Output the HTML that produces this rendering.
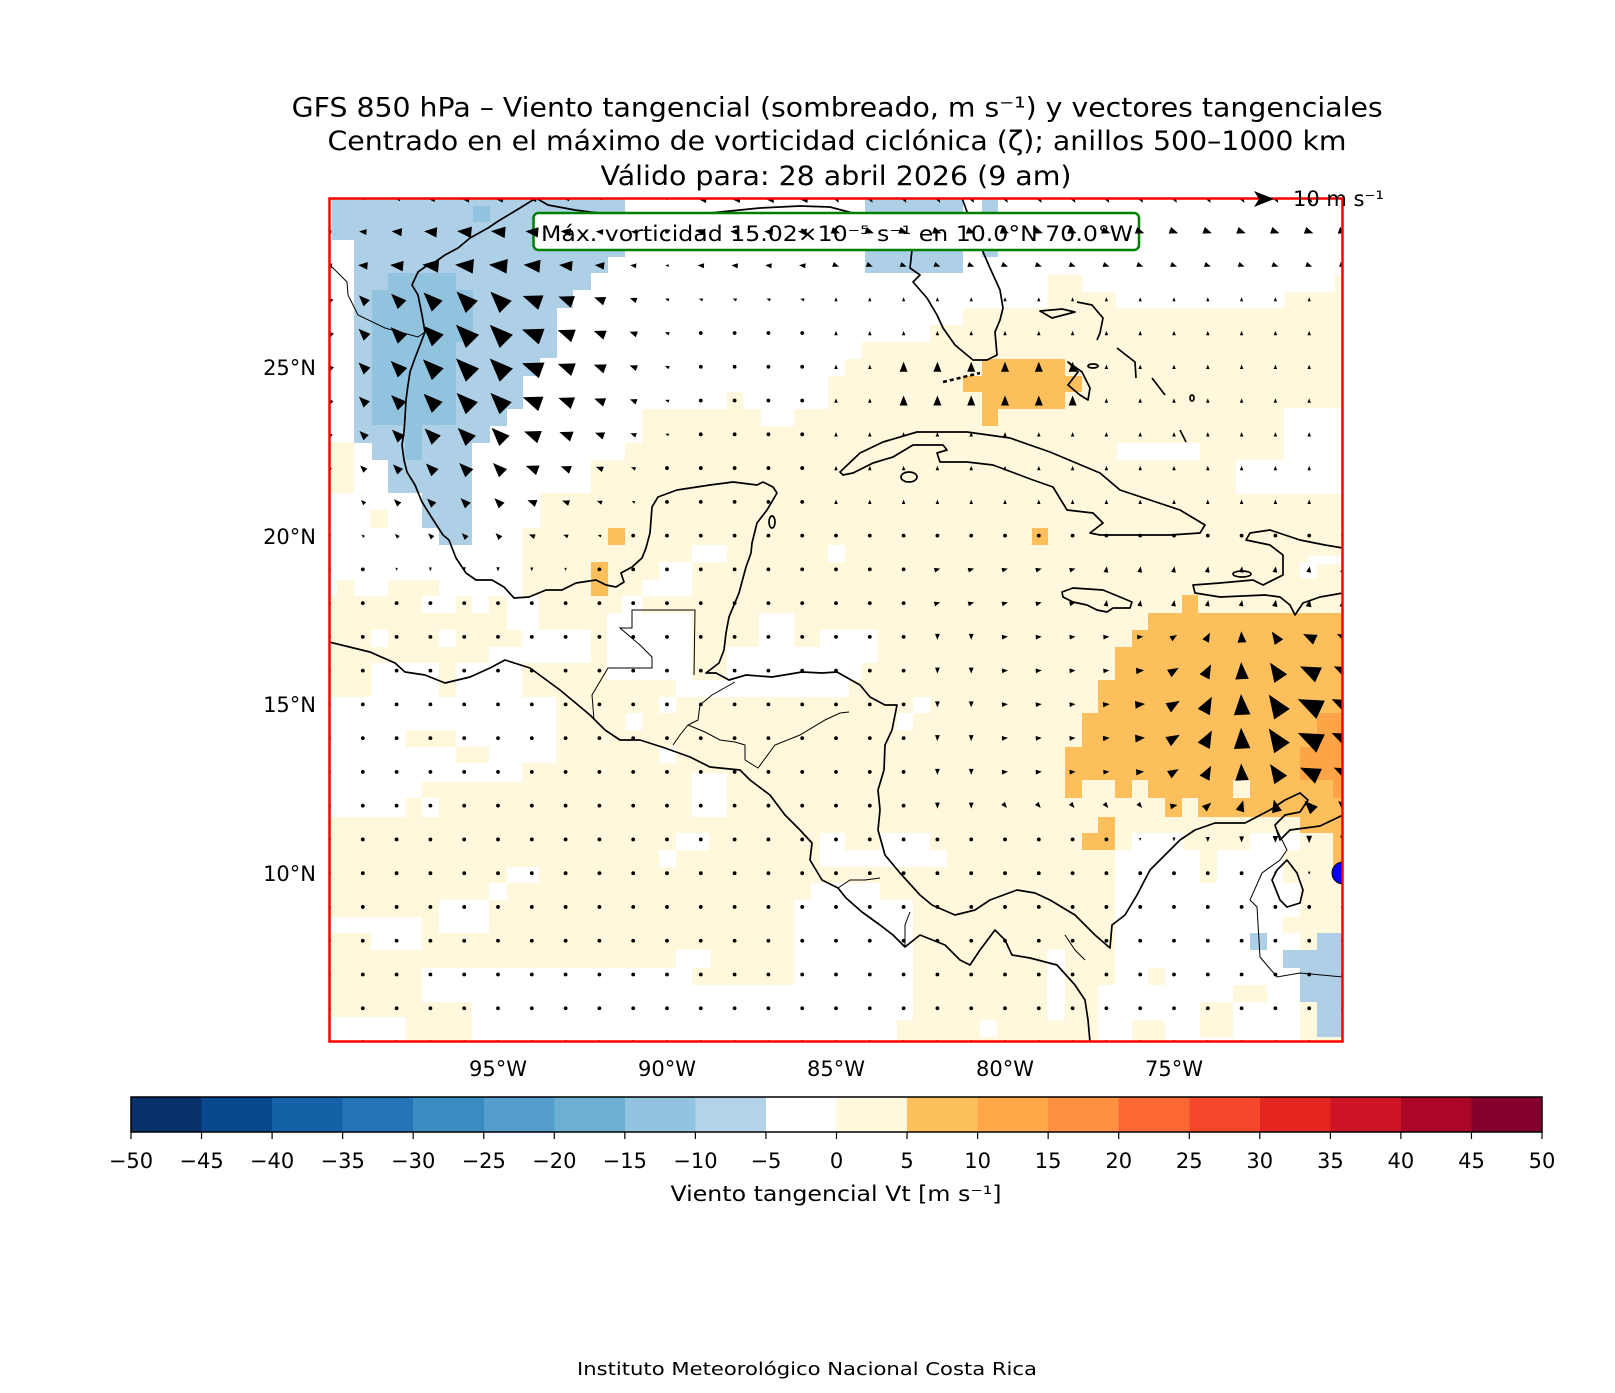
<!DOCTYPE html>
<html><head><meta charset="utf-8">
<style>
html,body{margin:0;padding:0;background:#fff;}
svg{display:block;font-family:"DejaVu Sans","Liberation Sans",sans-serif;}
</style></head>
<body>
<svg id="s" width="1615" height="1393" viewBox="0 0 1615 1393" xmlns="http://www.w3.org/2000/svg">
<defs><clipPath id="mc"><rect x="329" y="198" width="1014" height="844"/></clipPath></defs>
<rect width="1615" height="1393" fill="#fff"/>
<text x="291.7" y="116.7" font-size="27" textLength="1091" lengthAdjust="spacingAndGlyphs">GFS 850 hPa – Viento tangencial (sombreado, m s⁻¹) y vectores tangenciales</text>
<text x="327.5" y="150" font-size="27" textLength="1019" lengthAdjust="spacingAndGlyphs">Centrado en el máximo de vorticidad ciclónica (ζ); anillos 500–1000 km</text>
<text x="600.5" y="185" font-size="27" textLength="471" lengthAdjust="spacingAndGlyphs">Válido para: 28 abril 2026 (9 am)</text>

<g clip-path="url(#mc)" shape-rendering="crispEdges">
<rect x="329" y="198" width="1014" height="844" fill="#fff8dc"/>
<polygon fill="#fff" points="329,198 1343,198 1343,275 1335,275 1335,292 1285,292 1285,308 1116,308 1116,292 1082,292 1082,275 1048,275 1048,308 963,308 963,325 930,325 930,342 862,342 862,359 845,359 845,376 828,376 828,409 794,409 794,426 761,426 761,409 743,409 743,392 727,392 727,409 642,409 642,443 625,443 625,460 591,460 591,493 540,493 540,528 522,528 522,596 329,596"/>
<g fill="#fff8dc">
<rect x="329" y="442" width="25" height="51"/><rect x="337" y="580" width="17" height="16"/><rect x="388" y="580" width="51" height="16"/><rect x="370" y="510" width="18" height="18"/>
</g>
<g fill="#fff">
<rect x="1284" y="408" width="59" height="86"/><rect x="1236" y="460" width="48" height="34"/><rect x="1117" y="443" width="83" height="17"/><rect x="1300" y="562" width="17" height="16"/><rect x="1308" y="556" width="35" height="8"/>
<rect x="422" y="596" width="34" height="17"/><rect x="472" y="596" width="17" height="17"/><rect x="507" y="596" width="32" height="34"/>
<rect x="371" y="630" width="17" height="17"/><rect x="439" y="630" width="17" height="17"/><rect x="522" y="630" width="69" height="17"/>
<rect x="489" y="647" width="102" height="16"/><rect x="371" y="663" width="68" height="34"/><rect x="456" y="663" width="66" height="34"/>
<rect x="329" y="697" width="227" height="33"/><rect x="329" y="730" width="77" height="17"/><rect x="456" y="730" width="100" height="17"/>
<rect x="329" y="747" width="127" height="16"/><rect x="489" y="747" width="67" height="16"/><rect x="329" y="763" width="193" height="19"/>
<rect x="329" y="782" width="93" height="16"/><rect x="329" y="798" width="77" height="19"/><rect x="422" y="798" width="17" height="19"/>
<rect x="607" y="613" width="85" height="67"/><rect x="692" y="545" width="35" height="17"/><rect x="659" y="562" width="33" height="34"/><rect x="642" y="580" width="34" height="16"/><rect x="622" y="596" width="20" height="17"/>
<rect x="727" y="647" width="122" height="50"/><rect x="759" y="613" width="35" height="34"/><rect x="676" y="680" width="51" height="17"/><rect x="659" y="697" width="17" height="16"/><rect x="626" y="713" width="16" height="17"/>
<rect x="659" y="747" width="17" height="16"/><rect x="692" y="773" width="35" height="44"/><rect x="676" y="833" width="33" height="17"/><rect x="659" y="850" width="17" height="17"/>
<rect x="794" y="900" width="55" height="142"/><rect x="811" y="883" width="38" height="17"/>
<rect x="422" y="968" width="117" height="34"/><rect x="472" y="1002" width="67" height="40"/><rect x="539" y="968" width="153" height="74"/><rect x="692" y="985" width="157" height="57"/><rect x="676" y="950" width="35" height="18"/>
<rect x="329" y="1017" width="77" height="25"/><rect x="329" y="917" width="93" height="16"/><rect x="371" y="933" width="51" height="17"/><rect x="439" y="900" width="50" height="33"/><rect x="489" y="883" width="18" height="17"/><rect x="507" y="867" width="32" height="16"/>
<rect x="820" y="630" width="58" height="33"/><rect x="820" y="663" width="42" height="17"/><rect x="913" y="697" width="17" height="16"/><rect x="897" y="713" width="16" height="17"/><rect x="828" y="545" width="17" height="17"/>
<rect x="880" y="833" width="50" height="17"/><rect x="845" y="850" width="102" height="17"/><rect x="820" y="833" width="25" height="34"/><rect x="820" y="883" width="60" height="17"/><rect x="820" y="900" width="93" height="120"/><rect x="820" y="1020" width="77" height="22"/>
<rect x="1115" y="850" width="135" height="192"/><rect x="1132" y="833" width="51" height="17"/><rect x="1250" y="833" width="50" height="209"/>
<rect x="1047" y="950" width="18" height="70"/><rect x="1098" y="985" width="17" height="57"/><rect x="980" y="1020" width="17" height="17"/>
</g>
<g fill="#fff8dc">
<rect x="1200" y="1002" width="33" height="35"/><rect x="1132" y="1020" width="33" height="22"/><rect x="1148" y="968" width="17" height="17"/><rect x="1233" y="985" width="34" height="17"/><rect x="1283" y="917" width="17" height="16"/><rect x="1300" y="900" width="17" height="17"/><rect x="1283" y="850" width="50" height="33"/><rect x="1200" y="850" width="17" height="33"/>
</g>
<g fill="#aed0e6">
<polygon points="332,198 625,198 625,257 608,257 608,273 591,273 591,290 573,290 573,308 557,308 557,358 540,358 540,376 523,376 523,409 507,409 507,426 490,426 490,443 472,443 472,545 439,545 439,528 422,528 422,493 388,493 388,460 372,460 372,443 354,443 354,240 332,240"/>
<rect x="865" y="198" width="98" height="75"/><rect x="982" y="198" width="16" height="59"/>
<rect x="1250" y="933" width="17" height="17"/><rect x="1317" y="933" width="26" height="17"/><rect x="1283" y="950" width="60" height="18"/><rect x="1300" y="968" width="43" height="34"/><rect x="1317" y="1002" width="26" height="35"/>
</g>
<g fill="#91c3df">
<polygon points="388,273 456,273 456,290 473,290 473,342 456,342 456,425 422,425 422,460 405,460 405,425 372,425 372,290 388,290"/>
<rect x="473" y="206" width="17" height="16"/>
</g>
<g fill="#fdbf5b">
<rect x="1182" y="595" width="16" height="18"/><rect x="1148" y="613" width="195" height="17"/><rect x="1132" y="630" width="211" height="17"/><rect x="1115" y="647" width="228" height="33"/><rect x="1098" y="680" width="245" height="33"/><rect x="1082" y="713" width="261" height="34"/><rect x="1065" y="747" width="278" height="33"/>
<rect x="1065" y="780" width="17" height="18"/><rect x="1115" y="780" width="17" height="18"/><rect x="1148" y="780" width="85" height="18"/><rect x="1250" y="780" width="93" height="18"/>
<rect x="1165" y="798" width="17" height="19"/><rect x="1198" y="798" width="102" height="19"/><rect x="1300" y="798" width="43" height="35"/><rect x="1333" y="833" width="10" height="40"/>
<rect x="1098" y="817" width="17" height="33"/><rect x="1082" y="833" width="16" height="17"/>
<rect x="982" y="359" width="83" height="50"/><rect x="963" y="376" width="19" height="16"/><rect x="982" y="409" width="16" height="17"/><rect x="1065" y="376" width="17" height="16"/>
<rect x="608" y="528" width="17" height="17"/><rect x="591" y="562" width="17" height="34"/><rect x="1032" y="528" width="16" height="17"/>
</g>
<g fill="#fda446">
<rect x="1317" y="713" width="26" height="34"/><rect x="1300" y="747" width="43" height="33"/><rect x="1333" y="780" width="10" height="18"/>
</g>
</g>

<g clip-path="url(#mc)" fill="none" stroke="#000" stroke-width="1.7" stroke-linejoin="round">
<path d="M536,198 L520,208 L500,220 L488,228 L470,238 L458,248 L445,255 L435,262 L425,267 L418,272 L412,285 L418,295 L422,315 L425,332 L420,345 L415,358 L410,372 L408,385 L406,400 L405,418 L404,432 L402,445 L404,460 L407,472 L415,485 L422,502 L432,518 L443,535 L449,540 L456,558 L466,573 L476,580 L492,580 L504,587 L514,598 L529,597 L546,590 L562,590 L576,583 L596,580 L606,585 L616,587 L624,582 L621,573 L632,567 L642,558 L646,548 L650,533 L652,507 L658,497 L677,490 L710,485 L733,482 L757,485 L763,482 L773,487 L777,493 L767,510 L757,523 L752,543 L751,553 L746,567 L739,593 L729,617 L726,633 L724,650 L719,663 L706,673 L716,673 L729,680 L746,675 L772,677 L802,672 L822,673 L837,672 L860,685 L870,697 L885,705 L897,705 L892,730 L885,745 L884,770 L878,790 L880,810 L878,830 L885,855 L900,873 L920,895 L932,905 L955,915 L975,910 L990,900 L1017,890 L1035,893 L1050,900 L1075,915 L1095,935 L1110,948 L1112,925 L1125,915 L1137,895 L1150,870 L1165,855 L1180,840 L1195,830 L1215,823 L1245,823 L1270,810 L1285,800 L1300,793 L1308,800 L1300,812 L1285,815 L1275,825 L1280,840 L1290,830 L1305,828 L1320,826 L1343,815"/>
<path d="M329,642 L370,652 L395,663 L405,672 L425,675 L445,683 L470,677 L490,668 L505,660 L530,668 L560,690 L590,715 L605,730 L620,740 L640,740 L665,748 L690,757 L710,767 L740,770 L750,780 L770,795 L785,815 L800,830 L812,843 L810,860 L822,880 L838,888 L846,898 L862,912 L880,925 L893,935 L905,947 L920,935 L945,945 L960,960 L970,965 L980,950 L995,930 L1005,940 L1012,955 L1030,958 L1057,965 L1075,985 L1085,1000 L1088,1020 L1090,1042"/>
<path d="M962,198 L970,220 L980,245 L990,268 L1000,290 L1003,308 L1000,320 L995,332 L997,355 L987,360 L973,360 L967,355 L955,345 L943,328 L937,315 L927,298 L913,282 L920,275 L910,268 L912,250 L913,235 L900,228 L880,222 L860,215 L830,207 L800,206 L760,208 L720,212 L690,215 L660,218 L632,222 L610,214 L590,212 L575,210 L548,205 L536,198"/>
<path d="M840,472 L860,453 L883,442 L917,432 L967,432 L1010,438 L1050,452 L1100,473 L1120,490 L1150,500 L1180,510 L1205,525 L1200,533 L1170,535 L1130,535 L1100,535 L1090,533 L1103,523 L1093,513 L1067,510 L1053,487 L1033,480 L993,465 L967,462 L940,462 L937,453 L947,450 L943,445 L913,445 L893,457 L873,463 L853,473 L843,475 Z"/>
<ellipse cx="909" cy="477" rx="8" ry="5"/>
<path d="M1062,592 L1073,588 L1103,590 L1120,597 L1132,602 L1130,608 L1113,608 L1107,612 L1097,610 L1087,605 L1073,602 L1063,597 Z"/>
<path d="M1343,593 L1320,597 L1303,603 L1295,615 L1290,605 L1280,597 L1265,595 L1220,597 L1195,593 L1193,585 L1220,583 L1253,580 L1263,585 L1283,575 L1283,555 L1270,545 L1246,540 L1250,533 L1270,530 L1300,540 L1325,545 L1343,548"/>
<ellipse cx="1242" cy="574" rx="9" ry="3"/>
<path d="M1040,311 L1052,318 L1075,312 L1062,309 Z"/>
<path d="M1077,302 L1092,305 L1103,318 L1100,333 L1097,340"/>
<path d="M1068,362 L1078,372 L1068,385 L1080,395 L1088,400 L1090,388 L1082,372 Z"/>
<path d="M1117,348 L1135,362 L1136,378"/><path d="M1152,378 L1165,395"/><path d="M1180,430 L1186,442"/>
<ellipse cx="1093" cy="366" rx="5" ry="2"/><ellipse cx="1192" cy="398" rx="2" ry="3"/><ellipse cx="772" cy="522" rx="3" ry="6"/>
<path d="M943,382 L980,373" stroke-dasharray="4 3" stroke-width="2.5"/>
<path d="M1272,880 L1277,870 L1287,860 L1297,873 L1303,890 L1300,903 L1287,907 L1280,900 Z"/>
</g>
<g clip-path="url(#mc)" fill="none" stroke="#000" stroke-width="1">
<path d="M330,265 L347,282 L348,295 L358,315 L385,328 L418,337 L425,332"/>
<path d="M594,720 L592,695 L608,668 L652,668 L652,657 L640,645 L620,628 L632,628 L632,610 L695,610 L694,675"/>
<path d="M735,682 L712,695 L700,705 L698,720 L688,725 L680,735 L673,745"/>
<path d="M688,725 L705,732 L720,740 L735,742 L745,745 L745,760"/>
<path d="M745,760 L758,768 L775,745 L800,735 L825,720 L840,713 L849,712"/>
<path d="M838,888 L850,880 L865,880 L880,878"/>
<path d="M905,947 L905,925 L910,912"/>
<path d="M1065,935 L1075,950 L1085,960"/>
<path d="M1277,830 L1287,850 L1280,860 L1262,873 L1250,900 L1257,907 L1260,957 L1277,977 L1300,973 L1343,977"/>
</g>
<circle cx="1343" cy="873" r="11" fill="#0000ff" stroke="#000" stroke-width="1" clip-path="url(#mc)"/>

<rect x="533.5" y="213" width="605.5" height="37" rx="5" fill="#fff" stroke="#008000" stroke-width="2.5"/>
<text x="541" y="241" font-size="21" textLength="592" lengthAdjust="spacingAndGlyphs">Máx. vorticidad 15.02×10⁻⁵ s⁻¹ en 10.0°N 70.0°W</text>

<g id="arr" clip-path="url(#mc)" fill="#000"></g>

<rect x="329" y="198" width="1014" height="844" fill="none" stroke="#000" stroke-width="1"/>
<rect x="329.5" y="198.5" width="1013" height="843" fill="none" stroke="#ff0000" stroke-width="2.5"/>

<polygon points="1254,191 1274,199 1254,207 1259,199" fill="#000"/>
<text x="1293" y="206" font-size="21">10 m s⁻¹</text>

<g font-size="21" text-anchor="end">
<text x="316" y="375">25°N</text><text x="316" y="544">20°N</text><text x="316" y="712">15°N</text><text x="316" y="881">10°N</text>
</g>
<g font-size="21" text-anchor="middle">
<text x="498" y="1076">95°W</text><text x="667" y="1076">90°W</text><text x="836" y="1076">85°W</text><text x="1005" y="1076">80°W</text><text x="1174" y="1076">75°W</text>
</g>

<g id="cb" shape-rendering="crispEdges"></g>
<rect x="131" y="1097" width="1411" height="35" fill="none" stroke="#000" stroke-width="1.5"/>
<g id="cbt" font-size="21" text-anchor="middle"></g>
<text x="836" y="1201" font-size="21" text-anchor="middle" textLength="331" lengthAdjust="spacingAndGlyphs">Viento tangencial Vt [m s⁻¹]</text>
<text x="807" y="1375" font-size="18" text-anchor="middle" textLength="460" lengthAdjust="spacingAndGlyphs">Instituto Meteorológico Nacional Costa Rica</text>
</svg>
<script>
(function(){
var NS="http://www.w3.org/2000/svg";
var cols=["#08306b","#08488e","#1461a8","#2474b7","#3a8bc2","#539ecd","#6daed5","#92c3df","#b2d3e8","#ffffff","#fff8dc","#fec05c","#fea84a","#fd9041","#fc6833","#f4472b","#e52620","#cc1424","#ab0625","#85002b"];
var cb=document.getElementById("cb"),cbt=document.getElementById("cbt");
var x0=131,w=1411/20;
for(var i=0;i<20;i++){var r=document.createElementNS(NS,"rect");r.setAttribute("x",x0+i*w);r.setAttribute("y",1097);r.setAttribute("width",w+0.6);r.setAttribute("height",35);r.setAttribute("fill",cols[i]);cb.appendChild(r);}
for(var i=0;i<=20;i++){var x=x0+i*w;var l=document.createElementNS(NS,"line");l.setAttribute("x1",x);l.setAttribute("x2",x);l.setAttribute("y1",1132);l.setAttribute("y2",1139);l.setAttribute("stroke","#000");l.setAttribute("stroke-width","1.2");cbt.appendChild(l);
var t=document.createElementNS(NS,"text");t.setAttribute("x",x);t.setAttribute("y",1168);var v=-50+5*i;t.textContent=(v<0?"\u2212"+(-v):""+v);cbt.appendChild(t);}
var g=document.getElementById("arr");
function mag(lon,lat){
 var m=0.8;
 var a=12*Math.exp(-0.5*(Math.pow((lon-95.5)/3,2)+Math.pow((lat-25.5)/3.5,2)));
 var b=13*Math.exp(-0.5*(Math.pow((lon-70.5)/4,2)+Math.pow((lat-14.5)/2.2,2)));
 m=Math.max(m,a,b);
 if(lat>=27&&lon<90) m=Math.max(m,2+(lat-27)*1.2);
 if(lon>=78&&lon<=83&&lat>=23.5&&lat<=25.5) m=Math.max(m,5);
 if(lat>=21&&lat<=26&&lon<86) m=Math.max(m,2.2);
 if(lat>=12&&lat<=19&&lon<=82) m=Math.max(m,3);
 return m;
}
function dir(lon,lat){
 if(lon>=86){ if(lat>=20) return lat>27.5?175:(lon>=95?135:160); return -90;}
 if(lat>=27.5) return lat>=29.5?-60:-20;
 if(lat>=21) return 90;
 if(lat>=17.5) return lon>77?15:80;
 if(lat>=12&&lon<=80){ if(lon>=76) return lat>12?5:-50; var t=Math.min(1,(76-lon)/5); return t*155+(lat<=12?-20:0);}
 return -90;
}
for(var lon=70;lon<=100;lon++){for(var lat=5;lat<=30;lat++){
 var X=329+(100-lon)*33.8,Y=198+(30-lat)*33.76;
 var m=mag(lon,lat);
 if(m<1.4){var c=document.createElementNS(NS,"circle");c.setAttribute("cx",X);c.setAttribute("cy",Y);c.setAttribute("r",1.9);g.appendChild(c);continue;}
 var L=Math.min(26,2*m),hw=0.4*L,a=dir(lon,lat)*Math.PI/180;
 var ux=Math.cos(a),uy=-Math.sin(a),px=-uy,py=ux;
 var tx=X+ux*L/2,ty=Y+uy*L/2,bx=X-ux*L/2,by=Y-uy*L/2;
 var p=document.createElementNS(NS,"polygon");
 p.setAttribute("points",tx+","+ty+" "+(bx+px*hw)+","+(by+py*hw)+" "+(bx-px*hw)+","+(by-py*hw));
 g.appendChild(p);
}}
})();
</script>
</body></html>
